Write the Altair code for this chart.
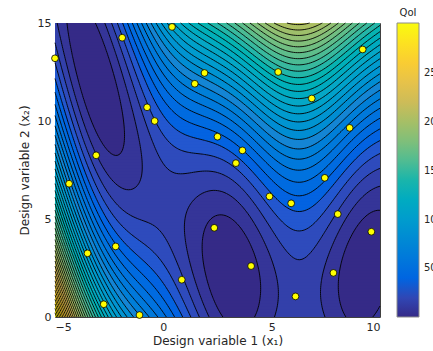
import numpy as np
import pandas as pd
import altair as alt

alt.data_transformers.disable_max_rows()

# Sampled design points (x1, x2)
x1_pts = [-5.0, -4.35, -3.5, -3.1, -2.75, -2.2, -1.9, -1.1, -0.75, -0.4,
          0.4, 0.85, 1.45, 1.9, 2.35, 2.5, 3.35, 3.65, 4.05, 4.9,
          5.3, 5.9, 6.1, 6.85, 7.45, 7.85, 8.05, 8.6, 9.2, 9.6]
x2_pts = [13.2, 6.8, 3.25, 8.25, 0.65, 3.6, 14.25, 0.1, 10.7, 10.0,
          14.8, 1.9, 11.9, 12.45, 4.55, 9.2, 7.85, 8.5, 2.6, 6.15,
          12.5, 5.8, 1.05, 11.15, 7.1, 2.25, 5.25, 9.65, 13.65, 4.35]

# Branin test function coefficients
a_c = 1.0
b_c = 5.1 / (4 * np.pi ** 2)
c_c = 5 / np.pi
r_c = 6.0
s_c = 10.0
t_c = 1 / (8 * np.pi)

x1_range = [-5, 10]
x2_range = [0, 15]
n_levels = 40
color_domain = [0.4, 301]
colorbar_ticks = [50, 100, 150, 200, 250]

# parula colour stops
parula = ["#352a87", "#0363e1", "#1485d4", "#06a7c6", "#38b99e",
          "#92bf73", "#d9ba56", "#fcce2e", "#f9fb0e"]


def branin(x1, x2):
    return (a_c * (x2 - b_c * x1 ** 2 + c_c * x1 - r_c) ** 2
            + s_c * (1 - t_c) * np.cos(x1) + s_c)


# --- contour levels from a regular grid ---
ng = 151
gx = np.linspace(*x1_range, ng)
gy = np.linspace(*x2_range, ng)
GX, GY = np.meshgrid(gx, gy)          # [row=y, col=x]
Z = branin(GX, GY)
zmin, zmax = Z.min(), Z.max()
levels = np.linspace(zmin, zmax, n_levels + 2)[1:-1]
band_vals = np.concatenate([[zmin], levels])

# --- filled bands: run-length rows of equal band ---
nfx, nfy = 325, 196
fx_edges = np.linspace(*x1_range, nfx + 1)
fy_edges = np.linspace(*x2_range, nfy + 1)
fxc = (fx_edges[:-1] + fx_edges[1:]) / 2
fyc = (fy_edges[:-1] + fy_edges[1:]) / 2
ovx = 0.4 * (fx_edges[1] - fx_edges[0])   # small overlap hides antialias seams
ovy = 0.4 * (fy_edges[1] - fy_edges[0])
fill_rows = []
for j, yc in enumerate(fyc):
    band = np.searchsorted(levels, branin(fxc, yc), side="right")
    start = 0
    for i in range(1, nfx + 1):
        if i == nfx or band[i] != band[start]:
            fill_rows.append({"x": fx_edges[start],
                              "x2": min(fx_edges[i] + ovx, x1_range[1]),
                              "y": fy_edges[j],
                              "y2": min(fy_edges[j + 1] + ovy, x2_range[1]),
                              "QoI": float(band_vals[band[start]])})
            start = i
fill_df = pd.DataFrame(fill_rows)

# --- contour lines via marching squares ---
segs = []
for L in levels:
    above = Z >= L
    s = above[:-1, :-1].astype(int) + above[:-1, 1:] + above[1:, :-1] + above[1:, 1:]
    js, is_ = np.where((s > 0) & (s < 4))
    for j, i in zip(js, is_):
        z00, z10 = Z[j, i], Z[j, i + 1]
        z01, z11 = Z[j + 1, i], Z[j + 1, i + 1]
        x0, x1 = gx[i], gx[i + 1]
        y0, y1 = gy[j], gy[j + 1]

        def cross(za, zb, pa, pb):
            if (za >= L) == (zb >= L):
                return None
            t = (L - za) / (zb - za)
            return (pa[0] + t * (pb[0] - pa[0]), pa[1] + t * (pb[1] - pa[1]))

        e = {"b": cross(z00, z10, (x0, y0), (x1, y0)),
             "r": cross(z10, z11, (x1, y0), (x1, y1)),
             "t": cross(z01, z11, (x0, y1), (x1, y1)),
             "l": cross(z00, z01, (x0, y0), (x0, y1))}
        pts = [k for k in "brtl" if e[k] is not None]
        if len(pts) == 2:
            pairs = [(pts[0], pts[1])]
        else:
            center_above = (z00 + z10 + z01 + z11) / 4 >= L
            corners = [(z00, "b", "l"), (z10, "b", "r"), (z11, "r", "t"), (z01, "t", "l")]
            pairs = [(p, q) for zc, p, q in corners if (zc >= L) != center_above]
        for p, q in pairs:
            segs.append({"x": e[p][0], "y": e[p][1], "x2": e[q][0], "y2": e[q][1]})
seg_df = pd.DataFrame(segs)

pts_df = pd.DataFrame({"x1": x1_pts, "x2": x2_pts})

xscale = alt.Scale(domain=x1_range, nice=False, zero=False)
yscale = alt.Scale(domain=x2_range, nice=False, zero=False)
cscale = alt.Scale(domain=color_domain, range=parula, clamp=True)

x_axis = alt.Axis(title="Design variable 1 (x₁)", values=[-5, 0, 5, 10],
                  ticks=False, labelPadding=4, titlePadding=3, grid=False)
y_axis = alt.Axis(title="Design variable 2 (x₂)", values=[0, 5, 10, 15],
                  ticks=False, labelPadding=4, titlePadding=6, grid=False)

fill = alt.Chart(fill_df).mark_rect().encode(
    x=alt.X("x:Q", scale=xscale, axis=x_axis),
    x2="x2:Q",
    y=alt.Y("y:Q", scale=yscale, axis=y_axis),
    y2="y2:Q",
    color=alt.Color("QoI:Q", scale=cscale, legend=alt.Legend(
        title=None, orient="none", legendX=342, legendY=0,
        direction="vertical", gradientLength=294, gradientThickness=22,
        values=colorbar_ticks, labelFontSize=10, labelOffset=5,
        gradientStrokeColor="#8c8c8c", gradientStrokeWidth=1,
        labelColor="#262626", labelFont="DejaVu Sans")),
)

lines = alt.Chart(seg_df).mark_rule(color="#000000", strokeWidth=0.9, opacity=1).encode(
    x=alt.X("x:Q", scale=xscale), y=alt.Y("y:Q", scale=yscale),
    x2="x2:Q", y2="y2:Q",
)

points = alt.Chart(pts_df).mark_point(
    filled=True, fill="#ffff00", stroke="#000000", strokeWidth=0.8,
    size=46, opacity=1, shape="circle"
).encode(
    x=alt.X("x1:Q", scale=xscale), y=alt.Y("x2:Q", scale=yscale),
)

cbar_title = alt.Chart(pd.DataFrame({"t": ["QoI"]})).mark_text(
    font="DejaVu Sans", fontSize=10, color="#262626", align="center", baseline="middle"
).encode(x=alt.value(353), y=alt.value(-10), text="t:N")

chart = alt.layer(fill, lines, points, cbar_title).properties(
    width=325, height=294,
    padding={"left": 55, "top": 23, "right": 53, "bottom": 34},
    autosize=alt.AutoSizeParams(type="none"),
).configure_view(
    stroke="#404040", strokeWidth=1
).configure_axis(
    labelFont="DejaVu Sans", titleFont="DejaVu Sans", labelFontSize=11,
    titleFontSize=12, labelColor="#262626", titleColor="#262626",
    titleFontWeight="normal", domain=False,
)

chart.save("out.html", embed_options={"renderer": "svg", "actions": False})
